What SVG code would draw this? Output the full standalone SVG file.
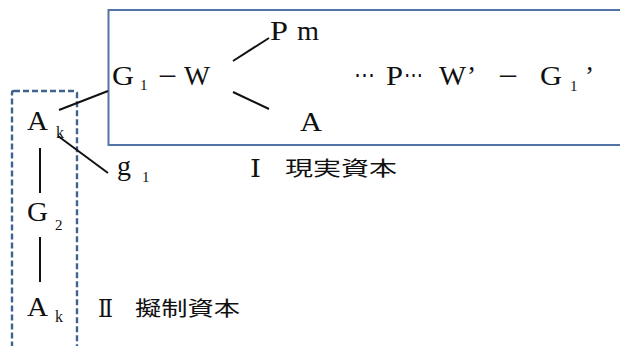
<svg xmlns="http://www.w3.org/2000/svg" width="620" height="346" viewBox="0 0 620 346">
<style>
text{fill:#111}
.t{font-size:27px}
.s{font-size:15px}
.k{font-size:16px}
.j{font-size:20px}
.c{stroke:#111;stroke-width:2;fill:none}
</style>
<rect width="620" height="346" fill="#fff"/>
<rect id="real-box" x="108.5" y="10" width="600" height="135" fill="none" stroke="#5274a6" stroke-width="2"/>
<rect id="fict-box" x="12" y="91" width="65" height="300" rx="2" fill="none" stroke="#3f6390" stroke-width="2.4" stroke-dasharray="6 3"/>
<g id="connectors" class="c">
<line x1="59" y1="110" x2="108" y2="91"/>
<line x1="58" y1="136" x2="108" y2="173"/>
<line x1="233" y1="61" x2="269" y2="38"/>
<line x1="233" y1="92" x2="269" y2="109"/>
<line x1="40" y1="148" x2="40" y2="193"/>
<line x1="40" y1="237" x2="40" y2="282"/>
</g>
<g font-family="'Liberation Serif', 'Times New Roman', serif">
<g id="g1w">
<text class="t" x="112" y="85" textLength="22" lengthAdjust="spacingAndGlyphs">G</text>
<text class="s" x="140" y="90">1</text>
<text class="t" x="158" y="85" textLength="19" lengthAdjust="spacingAndGlyphs">−</text>
<text class="t" x="184" y="85" textLength="26" lengthAdjust="spacingAndGlyphs">W</text>
</g>
<g id="pm">
<text class="t" x="270" y="40" textLength="18" lengthAdjust="spacingAndGlyphs">P</text>
<text class="t" x="297" y="40" textLength="22" lengthAdjust="spacingAndGlyphs">m</text>
</g>
<g id="a">
<text class="t" x="300" y="131" textLength="22" lengthAdjust="spacingAndGlyphs">A</text>
</g>
<g id="circuit">
<text class="t" x="354" y="84" textLength="21" lengthAdjust="spacingAndGlyphs">⋯</text>
<text class="t" x="386" y="85" textLength="17" lengthAdjust="spacingAndGlyphs">P</text>
<text class="t" x="404" y="84" textLength="19" lengthAdjust="spacingAndGlyphs">⋯</text>
<text class="t" x="439" y="85" textLength="27" lengthAdjust="spacingAndGlyphs">W</text>
<text class="t" x="467" y="85">’</text>
<text class="t" x="498" y="85" textLength="20" lengthAdjust="spacingAndGlyphs">−</text>
<text class="t" x="540" y="85" textLength="22" lengthAdjust="spacingAndGlyphs">G</text>
<text class="s" x="570" y="91">1</text>
<text class="t" x="585" y="85">’</text>
</g>
<g id="ak1">
<text class="t" x="27" y="130" textLength="21" lengthAdjust="spacingAndGlyphs">A</text>
<text class="k" x="56" y="138">k</text>
</g>
<g id="g1small">
<text class="t" x="117" y="175" textLength="14" lengthAdjust="spacingAndGlyphs">g</text>
<text class="s" x="142" y="182">1</text>
</g>
<g id="g2">
<text class="t" x="27" y="221" textLength="21" lengthAdjust="spacingAndGlyphs">G</text>
<text class="s" x="55" y="230">2</text>
</g>
<g id="ak2">
<text class="t" x="27" y="316" textLength="21" lengthAdjust="spacingAndGlyphs">A</text>
<text class="k" x="55" y="322">k</text>
</g>
</g>
<g font-family="'Liberation Serif', 'DejaVu Serif', 'Noto Sans CJK JP', serif">
<g id="label-real">
<text x="250" y="177" style="font-size:25px" textLength="11" lengthAdjust="spacingAndGlyphs">Ⅰ</text>
<text class="j" x="285" y="176" textLength="112" lengthAdjust="spacingAndGlyphs" font-family="'Noto Sans CJK JP', sans-serif">現実資本</text>
</g>
<g id="label-fict">
<text x="98" y="317" style="font-size:25px" textLength="15" lengthAdjust="spacingAndGlyphs">Ⅱ</text>
<text class="j" x="135" y="316" textLength="105" lengthAdjust="spacingAndGlyphs" font-family="'Noto Sans CJK JP', sans-serif">擬制資本</text>
</g>
</g>
</svg>
